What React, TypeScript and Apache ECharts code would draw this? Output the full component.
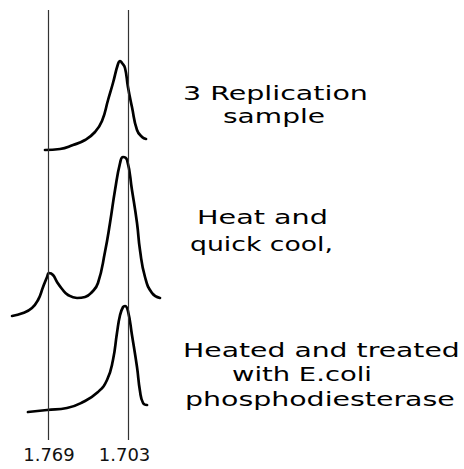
import React, { useEffect, useRef } from "react";
import * as echarts from "echarts";

// Buoyant density reference lines (g/ml)
const markerDensities = [1.769, 1.703];

// Absorbance profiles: [density, relative absorbance]
const replicationSample: [number, number][] = [
  [1.7725, 2], [1.7594, 3], [1.748, 7], [1.7375, 12], [1.7288, 20], [1.7227, 31],
  [1.7174, 52], [1.7131, 69], [1.7087, 88], [1.7069, 91], [1.7052, 89], [1.7026, 84],
  [1.7, 65], [1.6965, 45], [1.6921, 22], [1.6877, 15], [1.6842, 13],
];
const heatQuickCool: [number, number][] = [
  [1.8013, 4], [1.7917, 7], [1.7839, 12], [1.7786, 20], [1.7742, 33], [1.7707, 43],
  [1.769, 47], [1.7655, 45], [1.762, 38], [1.7576, 31], [1.7524, 25], [1.7445, 22],
  [1.7375, 23], [1.7314, 28], [1.7262, 37], [1.7201, 68], [1.7157, 97],
  [1.7113, 130], [1.7069, 157], [1.7043, 163], [1.7008, 160], [1.6965, 130],
  [1.6921, 97], [1.6895, 70], [1.6851, 43], [1.679, 27], [1.672, 22],
];
const heatedPhosphodiesterase: [number, number][] = [
  [1.7874, 3], [1.7707, 5], [1.7533, 7], [1.7393, 13], [1.7262, 23], [1.7183, 35],
  [1.7131, 55], [1.7096, 82], [1.7069, 100], [1.7043, 108], [1.7026, 109], [1.7, 104],
  [1.6965, 80], [1.6921, 48], [1.6895, 24], [1.6868, 12], [1.6833, 10],
];

const sampleLabels: string[][] = [
  ["3 Replication", "sample"],
  ["Heat and", "quick cool,"],
  ["Heated and treated", "with E.coli", "phosphodiesterase"],
];

// layout: [left, right, middleY] for each text line
const labelBoxes: [number, number, number][][] = [
  [[183, 368, 94], [223, 325, 117]],
  [[197, 328, 217], [190, 333, 244]],
  [[183, 460, 351], [232, 372, 375], [185, 455, 400]],
];

const FONT = "DejaVu Sans";
const FS = 19;

function measure(text: string): number {
  const c = document.createElement("canvas");
  const ctx = c.getContext("2d");
  if (!ctx) return text.length * FS * 0.6;
  ctx.font = `${FS}px "${FONT}"`;
  return ctx.measureText(text).width;
}

export default function App() {
  const ref = useRef<HTMLDivElement>(null);
  useEffect(() => {
    if (!ref.current) return;
    const chart = echarts.init(ref.current, undefined, { renderer: "svg" });
    const gx = { left: 2.1, width: 217.4 };
    const grids = [
      { ...gx, top: 40, height: 112 },
      { ...gx, top: 150, height: 170 },
      { ...gx, top: 295, height: 120 },
      { ...gx, top: 10, height: 430 },
    ];
    const yMax = [112, 170, 120, 1];
    const xAxes = grids.map((_, i) => ({
      type: "value" as const,
      gridIndex: i,
      min: 1.62,
      max: 1.81,
      inverse: true,
      show: i === 3,
      axisLine: { show: false },
      axisTick: { show: false },
      splitLine: { show: false },
      axisLabel: {
        show: i === 3,
        customValues: markerDensities,
        formatter: (v: number) => v.toFixed(3),
        fontSize: 18,
        fontFamily: FONT,
        color: "#111",
        margin: 5,
      },
    }));
    const yAxes = grids.map((_, i) => ({
      type: "value" as const,
      gridIndex: i,
      min: 0,
      max: yMax[i],
      show: false,
    }));
    const curves = [replicationSample, heatQuickCool, heatedPhosphodiesterase];
    const series: any[] = curves.map((d, i) => ({
      type: "line",
      name: sampleLabels[i].join(" "),
      xAxisIndex: i,
      yAxisIndex: i,
      data: d,
      smooth: 0.5,
      symbol: "none",
      clip: false,
      lineStyle: { color: "#000", width: 2.7, cap: "round", join: "round" },
      z: 3,
    }));
    series.push({
      type: "line",
      xAxisIndex: 3,
      yAxisIndex: 3,
      data: [],
      markLine: {
        silent: true,
        symbol: "none",
        label: { show: false },
        lineStyle: { color: "#333", width: 1.2, type: "solid" },
        data: markerDensities.map((v) => ({ xAxis: v })),
      },
    });
    const graphics: any[] = [];
    sampleLabels.forEach((lines, gi) => {
      lines.forEach((t, li) => {
        const [l, r, y] = labelBoxes[gi][li];
        const w = measure(t);
        graphics.push({
          type: "text",
          x: l,
          y,
          scaleX: (r - l) / w,
          style: {
            text: t,
            fontSize: FS,
            fontFamily: FONT,
            fill: "#000",
            textAlign: "left",
            textVerticalAlign: "middle",
          },
        });
      });
    });
    chart.setOption({
      animation: false,
      backgroundColor: "#fff",
      grid: grids,
      xAxis: xAxes,
      yAxis: yAxes,
      series,
      graphic: graphics,
    });
    return () => chart.dispose();
  }, []);
  return (
    <div
      ref={ref}
      style={{ position: "fixed", left: 0, top: 0, width: 464, height: 469 }}
    />
  );
}
